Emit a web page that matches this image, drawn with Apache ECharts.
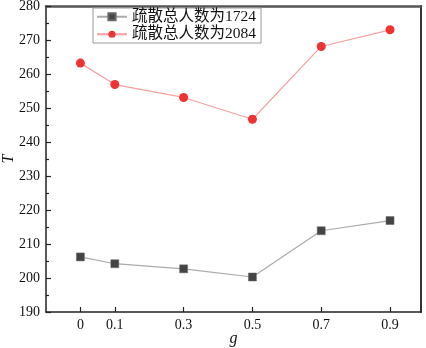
<!DOCTYPE html>
<html>
<head>
<meta charset="utf-8">
<script src="https://cdn.jsdelivr.net/npm/echarts@6/dist/echarts.min.js"></script>
<style>
  html, body { margin: 0; padding: 0; background: #fff; }
  #main { width: 426px; height: 348px; }
</style>
</head>
<body>
<div id="main"></div>
<script>
// 数据
var gValues = [0, 0.1, 0.3, 0.5, 0.7, 0.9];
var t1724 = [206.2, 204.2, 202.7, 200.3, 213.9, 216.9];
var t2084 = [263.2, 256.9, 253.1, 246.7, 268.1, 273.0];
var seriesNames = ['疏散总人数为1724', '疏散总人数为2084'];

function pairs(ys) {
    return gValues.map(function (g, i) { return [g, ys[i]]; });
}

var fontFamily = '"Liberation Serif", "Noto Sans CJK SC", serif';

var chart = echarts.init(document.getElementById('main'));
var option = {
    animation: false,
    backgroundColor: '#fff',
    grid: { left: 46, right: 5, top: 6, bottom: 36, outerBoundsMode: 'none', containLabel: false },
    legend: {
        left: 93,
        top: 8,
        orient: 'vertical',
        itemWidth: 30,
        itemHeight: 9,
        itemGap: 2,
        padding: [1, 5, 1, 3],
        borderColor: '#999',
        borderWidth: 1,
        textStyle: { fontFamily: fontFamily, fontSize: 15.5, color: '#111' },
        data: seriesNames
    },
    xAxis: [{
        type: 'value',
        min: -0.1,
        max: 0.99,
        name: 'g',
        nameLocation: 'middle',
        nameGap: 19,
        nameMoveOverlap: false,
        nameTextStyle: { fontFamily: fontFamily, fontStyle: 'italic', fontSize: 16, color: '#111' },
        axisLine: { onZero: false, lineStyle: { color: '#222', width: 1.5 } },
        axisTick: {
            inside: true, length: 5, lineStyle: { color: '#222', width: 1.2 },
            customValues: gValues
        },
        axisLabel: {
            fontFamily: fontFamily, fontSize: 14, color: '#111', margin: 6,
            customValues: gValues,
            formatter: function (v) { return String(+v.toFixed(1)); }
        },
        splitLine: { show: false }
    }, {
        type: 'value',
        position: 'top',
        min: -0.1,
        max: 0.99,
        axisLine: { show: true, onZero: false, lineStyle: { color: '#555', width: 2.5 } },
        axisTick: { show: false },
        axisLabel: { show: false },
        splitLine: { show: false }
    }],
    yAxis: [{
        type: 'value',
        min: 190,
        max: 280,
        interval: 10,
        name: 'T',
        nameLocation: 'middle',
        nameGap: 29,
        nameMoveOverlap: false,
        nameTextStyle: { fontFamily: fontFamily, fontStyle: 'italic', fontSize: 16, color: '#111' },
        axisLine: { show: true, onZero: false, lineStyle: { color: '#222', width: 1.5 } },
        axisTick: { inside: true, length: 5, lineStyle: { color: '#222', width: 1.2 } },
        minorTick: { show: true, splitNumber: 2, length: 3, lineStyle: { color: '#222', width: 1.2 } },
        axisLabel: { fontFamily: fontFamily, fontSize: 14, color: '#111', margin: 6 },
        splitLine: { show: false }
    }, {
        type: 'value',
        position: 'right',
        min: 190,
        max: 280,
        axisLine: { show: true, onZero: false, lineStyle: { color: '#333', width: 2 } },
        axisTick: { show: false },
        axisLabel: { show: false },
        splitLine: { show: false }
    }],
    series: [{
        name: seriesNames[0],
        type: 'line',
        data: pairs(t1724),
        symbol: 'rect',
        symbolSize: 8,
        itemStyle: { color: '#444', borderColor: '#666', borderWidth: 0.5 },
        lineStyle: { color: '#aaa', width: 1.2 }
    }, {
        name: seriesNames[1],
        type: 'line',
        data: pairs(t2084),
        symbol: 'circle',
        symbolSize: 9,
        itemStyle: { color: '#ee3333' },
        lineStyle: { color: '#f7a0a0', width: 1.2 }
    }]
};
chart.setOption(option);
</script>
</body>
</html>
